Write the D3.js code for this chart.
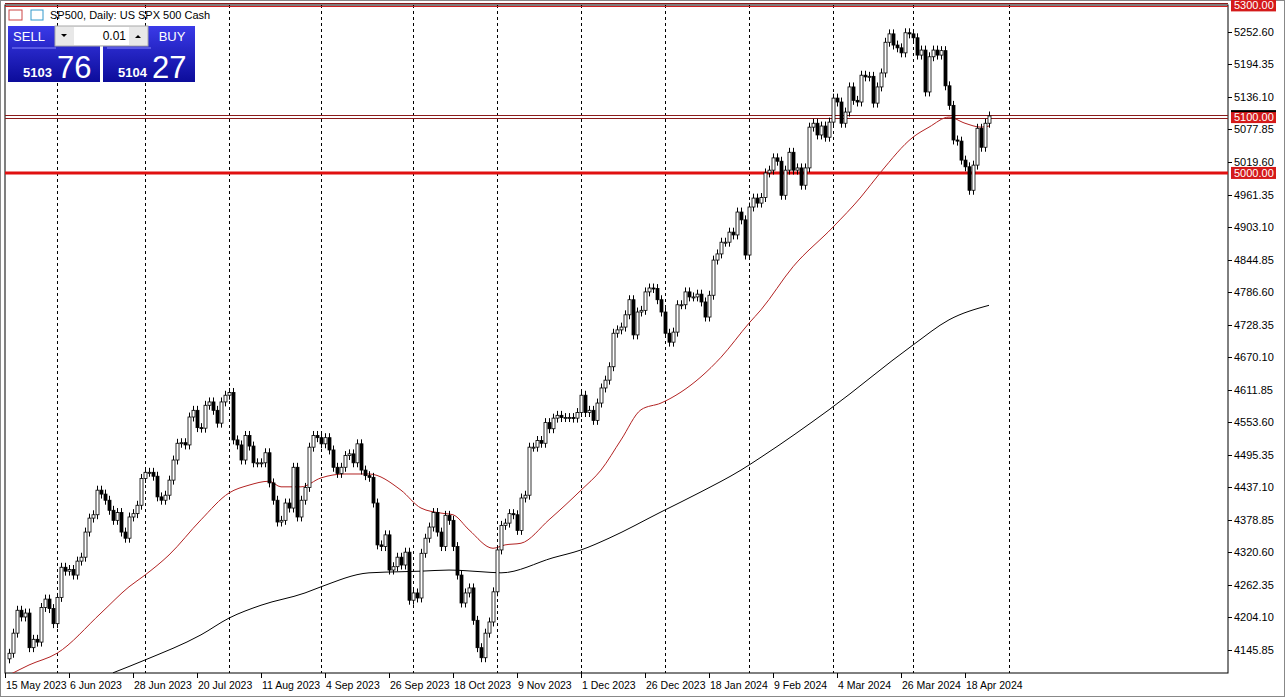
<!DOCTYPE html>
<html><head><meta charset="utf-8">
<script src="https://cdn.jsdelivr.net/npm/d3@7/dist/d3.min.js"></script>
<style>body{margin:0;background:#fff}svg{display:block}text{font-family:"Liberation Sans",Arial,sans-serif}</style>
</head><body><svg id="c" width="1285" height="697"></svg>
<script>
const firstOpen = 4130;
const closes = [
4140,4176,4217,4205,4212,4150,4165,4160,4222,4237,4220,4193,4240,4294,4287,4290,4280,4305,4312,4357,4382,4388,4432,4425,4414,4396,4378,4392,4357,4346,4384,4390,4405,4453,4464,4464,4457,4420,4414,4423,4450,4486,4516,4517,4513,4563,4575,4544,4543,4584,4590,4575,4552,4590,4602,4607,4522,4513,4486,4530,4511,
4481,4481,4481,4499,4445,4414,4375,4378,4409,4400,4473,4384,4414,4437,4509,4530,4526,4515,4526,4504,4473,4462,4473,4494,4497,4481,4515,4468,4458,4455,4409,4334,4331,4352,4289,4295,4312,4298,4321,4235,4248,4239,4319,4346,4366,4392,4357,4331,4387,4378,4331,4280,4230,4248,4257,4199,4150,4132,4176,4196,4250,4325,4369,4373,4390,
4388,4360,4418,4423,4509,4509,4521,4516,4553,4542,4561,4566,4562,4562,4562,4561,4571,4602,4571,4575,4557,4588,4615,4629,4653,4713,4719,4724,4746,4773,4710,4751,4754,4787,4794,4793,4773,4751,4713,4697,4715,4764,4764,4787,4778,4778,4783,4769,4742,4781,4844,4855,4876,4876,4894,4889,4930,4916,4853,4939,4955,4946,
4956,5000,5005,5027,5021,4960,5005,5037,5005,5009,4978,5009,5082,5089,5068,5084,5064,5091,5134,5127,5089,5109,5154,5130,5127,5175,5172,5173,5125,5154,5179,5234,5249,5229,5224,5215,5251,5249,5242,5211,5220,5145,5208,5220,5211,5219,5156,5121,5059,5057,5023,5011,4969,5014,5080,5046,5089,5102];
const maFast = [[0,4101],[5,4119],[12,4140],[23,4212],[30,4259],[34,4280],[40,4316],[48,4379],[55,4427],[60,4441],[65,4448],[68,4438],[73,4438],[78,4454],[84,4461],[90,4461],[98,4432],[103,4400],[108,4391],[111,4388],[115,4361],[121,4328],[124,4334],[128,4337],[135,4379],[143,4432],[148,4468],[153,4522],[158,4576],[163,4588],[173,4635],[178,4670],[185,4731],[188,4755],[196,4832],[206,4903],[213,4957],[218,5002],[226,5064],[230,5082],[235,5100],[239,5089],[243,5082],[245,5084]];
const maSlow = [[26,4105],[34,4128],[48,4173],[55,4203],[63,4226],[74,4248],[78,4259],[90,4284],[98,4286],[103,4287],[110,4289],[118,4286],[123,4284],[136,4311],[143,4325],[150,4346],[163,4393],[173,4429],[183,4468],[188,4491],[205,4576],[226,4692],[235,4737],[245,4763]];
const yTicks = [5252.60,5194.35,5136.10,5077.85,5019.60,4961.35,4903.10,4844.85,4786.60,4728.35,4670.10,4611.85,4553.60,4495.35,4437.10,4378.85,4320.60,4262.35,4204.10,4145.85];
const xLabels = ["15 May 2023","6 Jun 2023","28 Jun 2023","20 Jul 2023","11 Aug 2023","4 Sep 2023","26 Sep 2023","18 Oct 2023","9 Nov 2023","1 Dec 2023","26 Dec 2023","18 Jan 2024","9 Feb 2024","4 Mar 2024","26 Mar 2024","18 Apr 2024"];
const xLabelBars = [0,16,32,48,64,80,96,112,128,144,160,176,192,208,224,240];
const monthBars = [12,34,55,78,101,122,143,164,185,206,226,250];
const levels = [5300,5100,5000];

const svg = d3.select("#c");
const L=5,R=1228,T=5,B=673;
const x = d3.scaleLinear().domain([0,1]).range([9,13]);
const y = d3.scaleLinear().domain([5019.6,4145.85]).range([162,650]);

svg.append("rect").attr("x",0.5).attr("y",0.5).attr("width",1284).attr("height",696).attr("fill","#fff").attr("stroke","#888");
svg.append("rect").attr("x",L).attr("y",T).attr("width",R-L).attr("height",B-T).attr("fill","none").attr("stroke","#000");

const g = svg.append("g");
g.selectAll(".m").data(monthBars).join("line")
 .attr("x1",d=>Math.round(x(d))+0.5).attr("x2",d=>Math.round(x(d))+0.5).attr("y1",T).attr("y2",B)
 .attr("stroke","#000").attr("stroke-dasharray","3,3");

const ly=v=>Math.round(y(v));
g.append("line").attr("x1",L).attr("x2",R).attr("y1",ly(5300)-1.5).attr("y2",ly(5300)-1.5).attr("stroke","#8b1a1a");
g.append("line").attr("x1",L).attr("x2",R).attr("y1",ly(5300)+1.5).attr("y2",ly(5300)+1.5).attr("stroke","#d02020");
g.append("line").attr("x1",L).attr("x2",R).attr("y1",ly(5100)-1.5).attr("y2",ly(5100)-1.5).attr("stroke","#8b1a1a");
g.append("line").attr("x1",L).attr("x2",R).attr("y1",ly(5100)+1.5).attr("y2",ly(5100)+1.5).attr("stroke","#8b1a1a");
g.append("line").attr("x1",L).attr("x2",R).attr("y1",ly(5000)).attr("y2",ly(5000)).attr("stroke","#e01010").attr("stroke-width",3);

const line=d3.line().x(d=>x(d[0])).y(d=>y(d[1])).curve(d3.curveMonotoneX);
svg.append("clipPath").attr("id","cp").append("rect").attr("x",L).attr("y",T).attr("width",R-L).attr("height",B-T);
g.append("path").attr("d",line(maSlow)).attr("fill","none").attr("stroke","#000").attr("clip-path","url(#cp)");
g.append("path").attr("d",line(maFast)).attr("fill","none").attr("stroke","#b22222").attr("clip-path","url(#cp)");

const candles = closes.map((c,i)=>{const o=i?closes[i-1]:firstOpen;return {i,o,c,h:Math.max(o,c)+8,l:Math.min(o,c)-8};});
const cg=g.selectAll(".cd").data(candles).join("g");
cg.append("line").attr("x1",d=>Math.round(x(d.i))+0.5).attr("x2",d=>Math.round(x(d.i))+0.5)
 .attr("y1",d=>y(d.h)).attr("y2",d=>y(d.l)).attr("stroke","#000");
cg.append("rect").attr("x",d=>Math.round(x(d.i))-1).attr("width",3)
 .attr("y",d=>y(Math.max(d.o,d.c))).attr("height",d=>Math.max(1,Math.abs(y(d.o)-y(d.c))))
 .attr("fill",d=>d.c>=d.o?"#fff":"#000").attr("stroke","#000").attr("stroke-width",0.8);

const ya=svg.append("g");
ya.selectAll("line").data(yTicks).join("line").attr("x1",R).attr("x2",R+4).attr("y1",d=>Math.round(y(d))+0.5).attr("y2",d=>Math.round(y(d))+0.5).attr("stroke","#000");
ya.selectAll("text").data(yTicks).join("text").attr("x",R+6).attr("y",d=>y(d)+4).attr("font-size",11).text(d=>d.toFixed(2));
levels.forEach(v=>{
 ya.append("rect").attr("x",R+3).attr("y",y(v)-6).attr("width",45).attr("height",12).attr("fill","#d41a1a");
 if(v===5100) ya.append("rect").attr("x",R+3).attr("y",y(v)-7).attr("width",45).attr("height",2).attr("fill","#000");
 ya.append("text").attr("x",R+6).attr("y",y(v)+4).attr("font-size",11).attr("fill","#fff").text(v.toFixed(2));
});

const xa=svg.append("g");
xa.selectAll("line").data(xLabelBars).join("line").attr("x1",d=>Math.round(x(d))-3.5).attr("x2",d=>Math.round(x(d))-3.5).attr("y1",B).attr("y2",B+5).attr("stroke","#000");
xa.selectAll("text").data(xLabelBars).join("text").attr("x",d=>x(d)-3).attr("y",B+16).attr("font-size",10.5).text((d,i)=>xLabels[i]);

const hd=svg.append("g");
hd.append("rect").attr("x",9).attr("y",10).attr("width",13).attr("height",10).attr("fill","#fff").attr("stroke","#c44");
hd.append("rect").attr("x",31).attr("y",10).attr("width",12).attr("height",10).attr("fill","#fff").attr("stroke","#39c");
hd.append("text").attr("x",50).attr("y",19).attr("font-size",11).text("SP500, Daily:  US SPX 500 Cash");
const grad=svg.append("defs").append("linearGradient").attr("id","bg").attr("x1",0).attr("x2",0).attr("y1",0).attr("y2",1);
grad.append("stop").attr("offset","0%").attr("stop-color","#3a3ae8");
grad.append("stop").attr("offset","100%").attr("stop-color","#0c0c9a");
[[8,"SELL","5103","76"],[103,"BUY","5104","27"]].forEach(([bx,lab,a,b])=>{
 hd.append("rect").attr("x",bx).attr("y",26).attr("width",92).attr("height",56).attr("fill","url(#bg)");
 hd.append("text").attr("x",bx+(lab==="SELL"?21:69)).attr("y",41).attr("font-size",13).attr("fill","#fff").attr("text-anchor","middle").text(lab);
 hd.append("line").attr("x1",bx+4).attr("x2",bx+48).attr("y1",48).attr("y2",48).attr("stroke","#8888ff");
 hd.append("text").attr("x",bx+15).attr("y",77).attr("font-size",13).attr("font-weight","bold").attr("fill","#fff").text(a);
 hd.append("text").attr("x",bx+49).attr("y",78).attr("font-size",31).attr("fill","#fff").text(b);
});
hd.append("rect").attr("x",55).attr("y",26).attr("width",93).attr("height",20).attr("fill","#e8e8e8").attr("stroke","#aaa");
hd.append("rect").attr("x",74).attr("y",27).attr("width",55).attr("height",18).attr("fill","#fff");
hd.append("text").attr("x",126).attr("y",40).attr("font-size",12).attr("text-anchor","end").text("0.01");
hd.append("path").attr("d","M61,34 l6,0 l-3,3z").attr("fill","#000");
hd.append("path").attr("d","M135,38 l6,0 l-3,-3z").attr("fill","#000");
</script></body></html>
